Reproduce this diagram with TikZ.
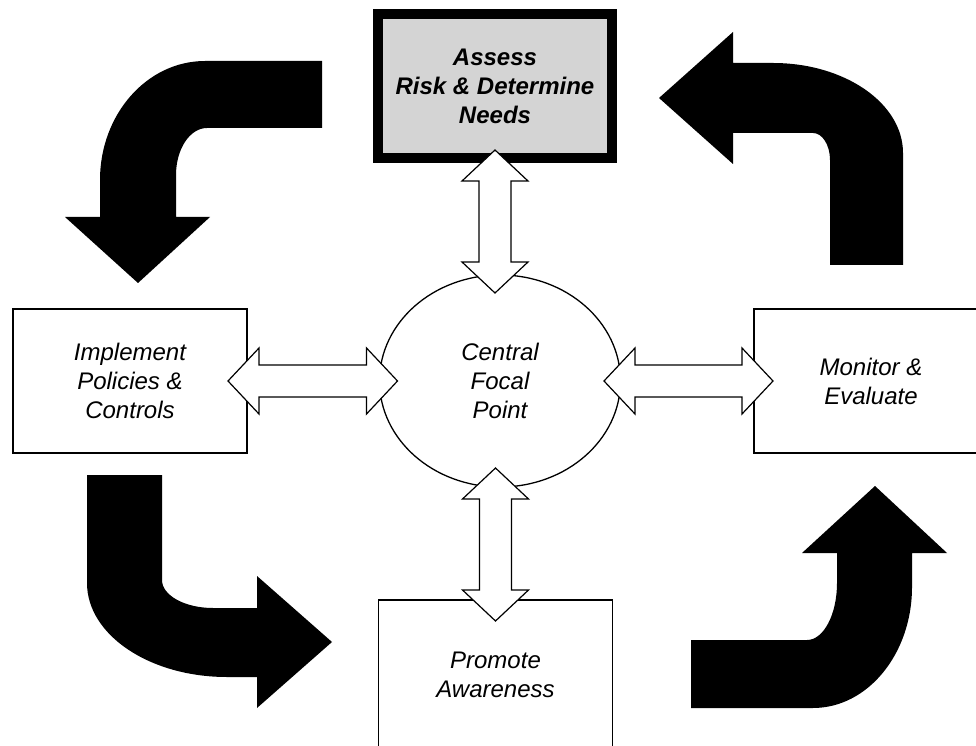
\documentclass[tikz,border=0pt]{standalone}
\usepackage{fontspec}
\setmainfont{Liberation Sans}
\usetikzlibrary{calc, positioning, shapes.geometric}
\definecolor{assessgray}{gray}{0.83}
\tikzset{
  stage/.style={rectangle, draw=black, line width=1.5pt, minimum width=234pt, minimum height=144pt, outer sep=0pt, align=center, font=\itshape\fontsize{24}{29}\selectfont},
  keystage/.style={stage, line width=10pt, fill=assessgray, font=\bfseries\itshape\fontsize{24}{29}\selectfont},
  hub/.style={ellipse, draw=black, line width=1.3pt, minimum width=241pt, minimum height=212pt, outer sep=0pt, align=center, font=\itshape\fontsize{24}{29}\selectfont},
  fatdbl/.style={draw=black, fill=white, line width=1.2pt, line join=miter},
  bigturn/.style={fill=black}
}
% hollow double arrow between two tips
\newcommand{\fatlink}[2]{%
  \draw[fatdbl] (#1)
    -- ($(#1)!31pt!(#2)!33pt!90:(#2)$) -- ($(#1)!31pt!(#2)!16pt!90:(#2)$)
    -- ($(#2)!31pt!(#1)!16pt!-90:(#1)$) -- ($(#2)!31pt!(#1)!33pt!-90:(#1)$)
    -- (#2)
    -- ($(#2)!31pt!(#1)!33pt!90:(#1)$) -- ($(#2)!31pt!(#1)!16pt!90:(#1)$)
    -- ($(#1)!31pt!(#2)!16pt!-90:(#2)$) -- ($(#1)!31pt!(#2)!33pt!-90:(#2)$)
    -- cycle;}

\begin{document}
\begin{tikzpicture}[x=1pt, y=1pt]
  \useasboundingbox (0,0) rectangle (976,745);
  \clip (0,0) rectangle (976,745);

  % Nodes
  \node[hub] (focal) at (500,364) {Central\\Focal\\Point};
  \node[keystage, above=117pt of focal, xshift=-5pt] (assess) {Assess\\Risk \& Determine\\Needs};
  \node[stage, left=132.5pt of focal] (impl) {Implement\\Policies \&\\Controls};
  \node[stage, right=133.5pt of focal] (monitor) {Monitor \&\\Evaluate};
  \node[stage, minimum height=150pt, below=113pt of focal, xshift=-4.5pt] (promote) {Promote\\Awareness};

  % Double arrows
  \coordinate (aTop) at ($(assess.south)+(0,8)$);
  \coordinate (aBot) at ($(assess.south |- focal.north)+(0,-18)$);
  \coordinate (lOut) at ($(impl.east)+(-19,0)$);
  \coordinate (lIn) at ($(focal.west |- impl.east)+(18,0)$);
  \coordinate (rIn) at ($(focal.east |- monitor.west)+(-16.5,0)$);
  \coordinate (rOut) at ($(monitor.west)+(19,0)$);
  \coordinate (bIn) at ($(focal.south -| promote.north)+(0,19)$);
  \coordinate (bOut) at ($(promote.north)+(0,-21)$);
  \fatlink{aTop}{aBot}
  \fatlink{lOut}{lIn}
  \fatlink{rIn}{rOut}
  \fatlink{bIn}{bOut}

  % Turn arrows
  \fill[bigturn] (322,684) -- (205,684) arc[start angle=90, end angle=180, x radius=105pt, y radius=119pt]
    -- (100,528) -- (65,528) -- (138,462) -- (210,528) -- (176,528) -- (176,570)
    arc[start angle=180, end angle=90, x radius=31pt, y radius=47pt] -- (322,617) -- cycle;
  \fill[bigturn] (659,647) -- (733,713) -- (733,682) -- (773,682)
    arc[start angle=90, end angle=0, x radius=130pt, y radius=90pt] -- (903,480) -- (830,480) -- (830,585)
    arc[start angle=0, end angle=90, x radius=17pt, y radius=27pt] -- (733,612) -- (733,581) -- cycle;
  \fill[bigturn] (87,270) -- (162,270) -- (162,165)
    arc[start angle=180, end angle=270, x radius=51pt, y radius=28pt] -- (257,137) -- (257,169) -- (332,103)
    -- (257,37) -- (257,68) -- (227,68) arc[start angle=270, end angle=180, x radius=140pt, y radius=94pt] -- cycle;
  \fill[bigturn] (691,105) -- (807,105) arc[start angle=270, end angle=360, x radius=30pt, y radius=57pt]
    -- (837,192) -- (802,192) -- (875,259) -- (947,192) -- (912,192) -- (912,158)
    arc[start angle=0, end angle=-90, x radius=99pt, y radius=121pt] -- (691,37) -- cycle;
\end{tikzpicture}
\end{document}
